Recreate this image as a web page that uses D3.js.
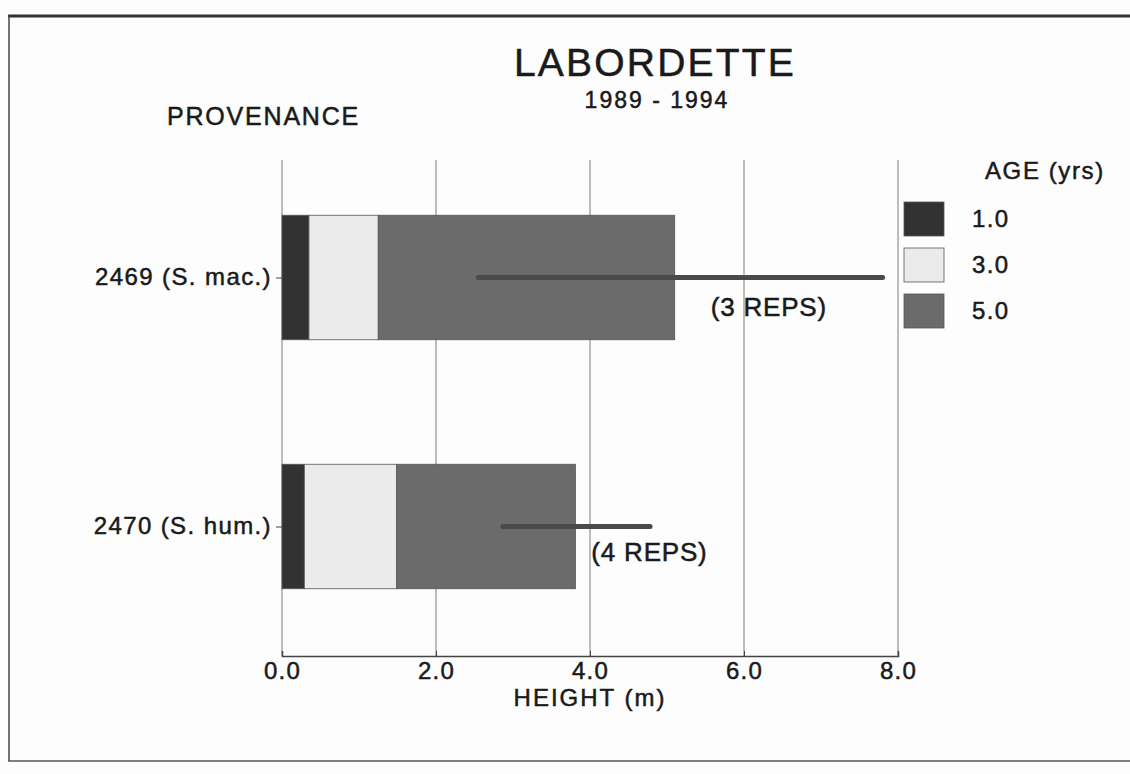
<!DOCTYPE html>
<html>
<head>
<meta charset="utf-8">
<script src="https://cdn.jsdelivr.net/npm/d3@7"></script>
<style>
  body { margin: 0; background: #fff; }
  text { font-family: "Liberation Sans", Arial, sans-serif; fill: #1a1a1a; stroke: #1a1a1a; stroke-width: 0.5px; }
</style>
</head>
<body>
<div id="chart"></div>
<script>
// data
var provenances = ["2469 (S. mac.)", "2470 (S. hum.)"];
var ages = ["1.0", "3.0", "5.0"];
var height1 = [0.35, 0.29];   // height at age 1 yr (m)
var height3 = [1.25, 1.49];   // height at age 3 yrs
var height5 = [5.10, 3.81];   // height at age 5 yrs
var errLow = [2.55, 2.87];
var errHigh = [7.80, 4.78];
var reps = ["(3 REPS)", "(4 REPS)"];
var xTicks = [0, 2, 4, 6, 8];

var w = 1130, h = 774;
var ageColors = ["#323232", "#ebebeb", "#6b6b6b"];

var svg = d3.select("#chart").append("svg")
    .attr("width", w)
    .attr("height", h);

svg.append("rect").attr("width", w).attr("height", h).attr("fill", "#fdfdfd");

// frame of the scanned page
svg.append("line").attr("x1", 8).attr("x2", w).attr("y1", 16).attr("y2", 16)
    .attr("stroke", "#333").attr("stroke-width", 3);
svg.append("line").attr("x1", 9).attr("x2", 9).attr("y1", 15).attr("y2", 761)
    .attr("stroke", "#444").attr("stroke-width", 1.5);
svg.append("line").attr("x1", 8).attr("x2", w).attr("y1", 761).attr("y2", 761)
    .attr("stroke", "#555").attr("stroke-width", 1.5);

var plotTop = 160, plotBottom = 656;

var x = d3.scaleLinear().domain([0, 8]).range([282, 898]);
var y = d3.scalePoint().domain(provenances).range([153, 651]).padding(0.5);
var barH = y.step() * 0.5;

// vertical grid lines
svg.selectAll(".grid")
    .data(xTicks)
    .enter()
    .append("line")
    .attr("x1", function(d) { return x(d); })
    .attr("x2", function(d) { return x(d); })
    .attr("y1", plotTop)
    .attr("y2", plotBottom)
    .attr("stroke", "#7a7a7a")
    .attr("stroke-width", 1);

// stacked segments
var rows = provenances.map(function(p, i) {
    return [
        { p: p, a: 0, x0: 0, x1: height1[i] },
        { p: p, a: 1, x0: height1[i], x1: height3[i] },
        { p: p, a: 2, x0: height3[i], x1: height5[i] }
    ];
});

svg.selectAll(".seg")
    .data(rows.flat())
    .enter()
    .append("rect")
    .attr("x", function(d) { return x(d.x0); })
    .attr("y", function(d) { return y(d.p) - barH / 2; })
    .attr("width", function(d) { return x(d.x1) - x(d.x0); })
    .attr("height", barH)
    .attr("fill", function(d) { return ageColors[d.a]; })
    .attr("stroke", "#555")
    .attr("stroke-width", 0.8);

// error lines
svg.selectAll(".err")
    .data(provenances)
    .enter()
    .append("line")
    .attr("x1", function(d, i) { return x(errLow[i]); })
    .attr("x2", function(d, i) { return x(errHigh[i]); })
    .attr("y1", function(d) { return y(d); })
    .attr("y2", function(d) { return y(d); })
    .attr("stroke", "#4a4a4a")
    .attr("stroke-width", 5)
    .attr("stroke-linecap", "round");

svg.selectAll(".reps")
    .data(provenances)
    .enter()
    .append("text")
    .attr("x", function(d, i) { return x(height5[i]) + (i == 0 ? 36 : 16); })
    .attr("y", function(d, i) { return y(d) + (i == 0 ? 38 : 34); })
    .attr("font-size", 26)
    .attr("letter-spacing", 0.8)
    .text(function(d, i) { return reps[i]; });

// x axis
var xAxis = d3.axisBottom(x)
    .tickValues(xTicks)
    .tickSize(-5)
    .tickPadding(6)
    .tickFormat(d3.format(".1f"));
var gx = svg.append("g")
    .attr("transform", "translate(0," + plotBottom + ")")
    .call(xAxis);
gx.select(".domain").attr("stroke", "#444").attr("stroke-width", 1.5);
gx.selectAll(".tick line").attr("stroke", "#444");
gx.selectAll(".tick text")
    .attr("font-size", 24)
    .attr("letter-spacing", 1.3)
    .attr("dy", "0.72em")
    .attr("font-family", "Liberation Sans, Arial, sans-serif")
    .attr("fill", "#1a1a1a");

// y axis
var yAxis = d3.axisLeft(y).tickSize(6).tickPadding(4);
var gy = svg.append("g")
    .attr("transform", "translate(" + x(0) + ",0)")
    .call(yAxis);
gy.select(".domain").remove();
gy.selectAll(".tick line").attr("stroke", "#444");
gy.selectAll(".tick text")
    .attr("font-size", 24)
    .attr("letter-spacing", 1.4)
    .attr("dy", "0.3em")
    .attr("font-family", "Liberation Sans, Arial, sans-serif")
    .attr("fill", "#1a1a1a");

// titles
svg.append("text").attr("x", 655).attr("y", 76).attr("text-anchor", "middle")
    .attr("font-size", 39).attr("letter-spacing", 2.2).text("LABORDETTE");
svg.append("text").attr("x", 657).attr("y", 108).attr("text-anchor", "middle")
    .attr("font-size", 23).attr("letter-spacing", 2).text("1989 - 1994");
svg.append("text").attr("x", 167).attr("y", 125)
    .attr("font-size", 25).attr("letter-spacing", 1.8).text("PROVENANCE");
svg.append("text").attr("x", 590).attr("y", 706).attr("text-anchor", "middle")
    .attr("font-size", 24).attr("letter-spacing", 2).text("HEIGHT (m)");

// legend
svg.append("text").attr("x", 985).attr("y", 179)
    .attr("font-size", 24).attr("letter-spacing", 1.6).text("AGE (yrs)");
var leg = svg.selectAll(".leg")
    .data(ages)
    .enter()
    .append("g")
    .attr("transform", function(d, i) { return "translate(904," + (202 + i * 46) + ")"; });
leg.append("rect")
    .attr("width", 40)
    .attr("height", 34)
    .attr("fill", function(d, i) { return ageColors[i]; })
    .attr("stroke", "#555")
    .attr("stroke-width", 0.8);
leg.append("text")
    .attr("x", 68)
    .attr("y", 25)
    .attr("font-size", 24)
    .attr("letter-spacing", 1.4)
    .text(function(d) { return d; });
</script>
</body>
</html>
